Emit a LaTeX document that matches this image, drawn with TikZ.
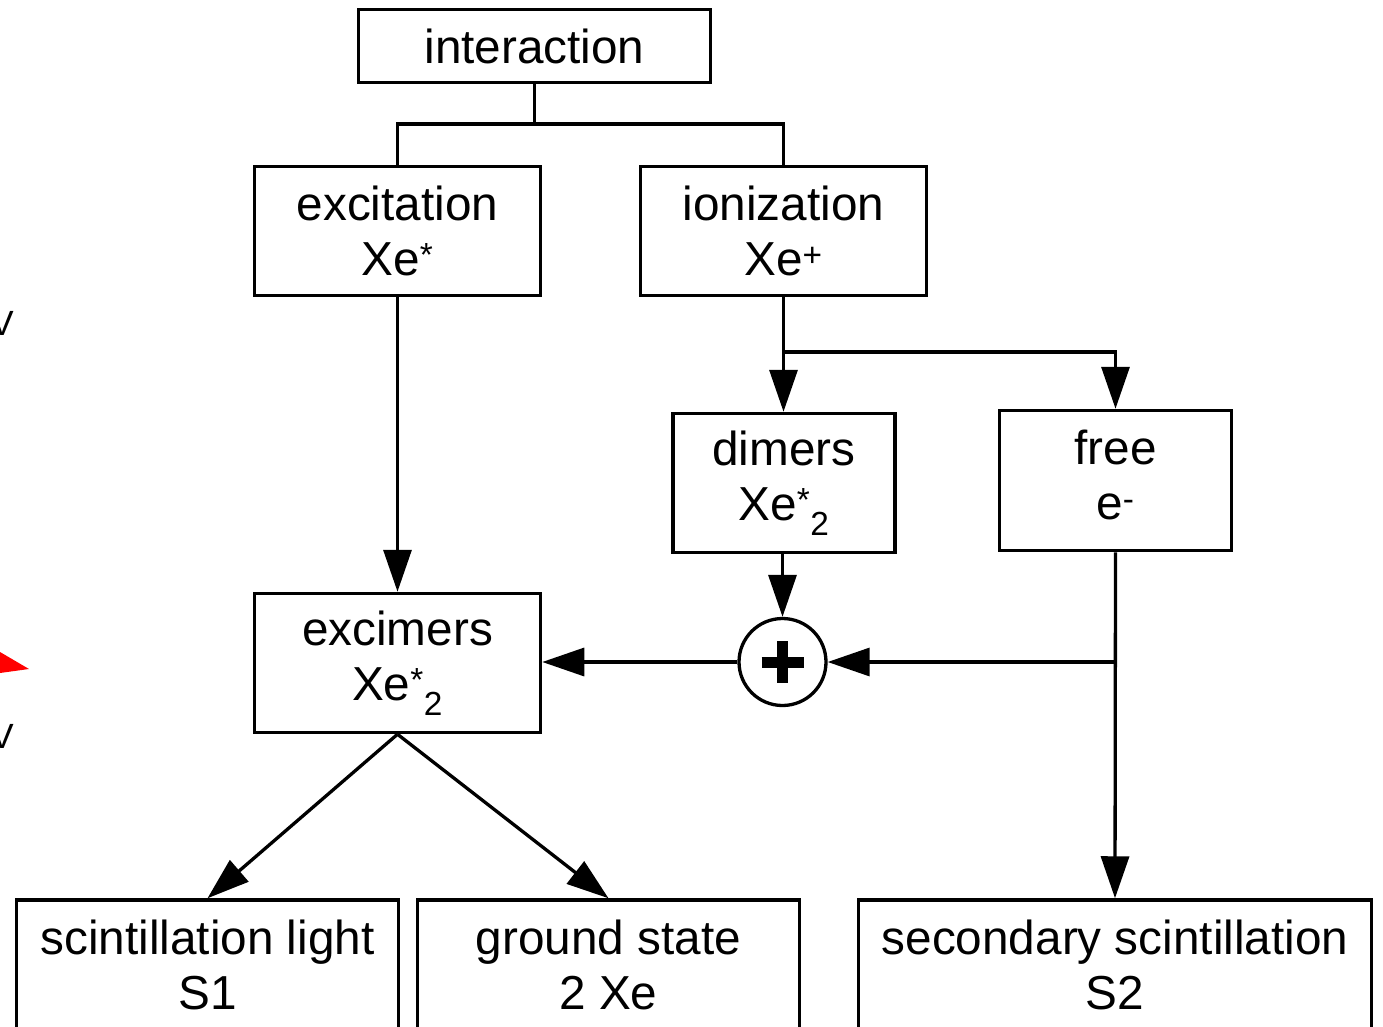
\documentclass[tikz,border=0pt]{standalone}
\usepackage{fontspec}
\setmainfont{Liberation Sans}
\usetikzlibrary{arrows.meta}

\begin{document}
\begin{tikzpicture}[x=1pt,y=-1pt,
  box/.style={draw, line width=3.5pt, inner sep=0pt, align=center,
    font=\fontsize{47.7}{55}\selectfont},
  link/.style={line width=3.3pt},
  arr/.style={line width=3.3pt, -{Triangle[length=42pt,width=28pt]}},
  edgetext/.style={inner sep=0pt, anchor=base east, font=\fontsize{35}{40}\selectfont}]
\useasboundingbox (0,0) rectangle (1383,1027);
\clip (0,0) rectangle (1383,1027);

% process boxes
\node[box, minimum width=352pt, minimum height=73pt]  (inter) at (534.5,46)   {interaction};
\node[box, minimum width=286pt, minimum height=129pt] (exc)   at (397.5,231)  {excitation\\Xe\textsuperscript{*}};
\node[box, minimum width=286pt, minimum height=129pt] (ion)   at (783.5,231)  {ionization\\Xe\textsuperscript{+}};
\node[box, minimum width=222pt, minimum height=139pt] (dim)   at (784,483)    {dimers\\Xe\textsuperscript{*}\textsubscript{2}};
\node[box, minimum width=232pt, minimum height=140pt] (free)  at (1115.5,480.5) {free\\e\textsuperscript{-}\rule[-11pt]{0pt}{11pt}};
\node[box, minimum width=286pt, minimum height=139pt] (exm)   at (397.5,663)  {excimers\\Xe\textsuperscript{*}\textsubscript{2}};
\node[box, minimum width=382pt, minimum height=130pt] (scint) at (207.5,965)  {scintillation light\\S1};
\node[box, minimum width=382pt, minimum height=130pt] (gnd)   at (608.5,965)  {ground state\\2 Xe};
\node[box, minimum width=513pt, minimum height=130pt] (sec)   at (1115,965)   {secondary scintillation\\S2};

% recombination junction
\node[draw, circle, line width=3.3pt, minimum size=87pt, inner sep=0pt] (plus) at (782.5,662) {};
\draw[line width=11pt] (plus.center) +(-21,0) -- +(21,0);
\draw[line width=11pt] (plus.center) +(0,-21) -- +(0,21);

% split of the interaction
\coordinate (j1) at (534.5,124);
\draw[link] (inter.south) -- (j1);
\draw[link] (exc.north) |- (j1) -| (ion.north);

% ionization branches
\coordinate (j2) at (783.5,352);
\draw[link] (ion.south) -- (j2);
\draw[arr] (j2) -- (j2 |- dim.north);
\draw[arr] (j2) -| (free.north);

% excitation path
\draw[arr] (exc.south) -- (exm.north);

% recombination
\draw[arr] (dim.south -| plus) -- (plus.north);
\coordinate (j3) at (free.south |- plus);
\draw[arr] (free.south) -- (sec.north);
\draw[arr] (j3) -- (plus.east);
\draw[arr] (plus.west) -- (plus.west -| exm.east);

% de-excitation
\draw[arr] (exm.south) -- (scint.north);
\draw[arr] (exm.south) -- (gnd.north);

% pieces at the left edge
\node[edgetext] (v1) at (14,335) {V};
\node[edgetext] (v2) at (14,748) {V};
\fill[red] (0,652) -- (29,669) -- (0,673) -- cycle;
\end{tikzpicture}
\end{document}
